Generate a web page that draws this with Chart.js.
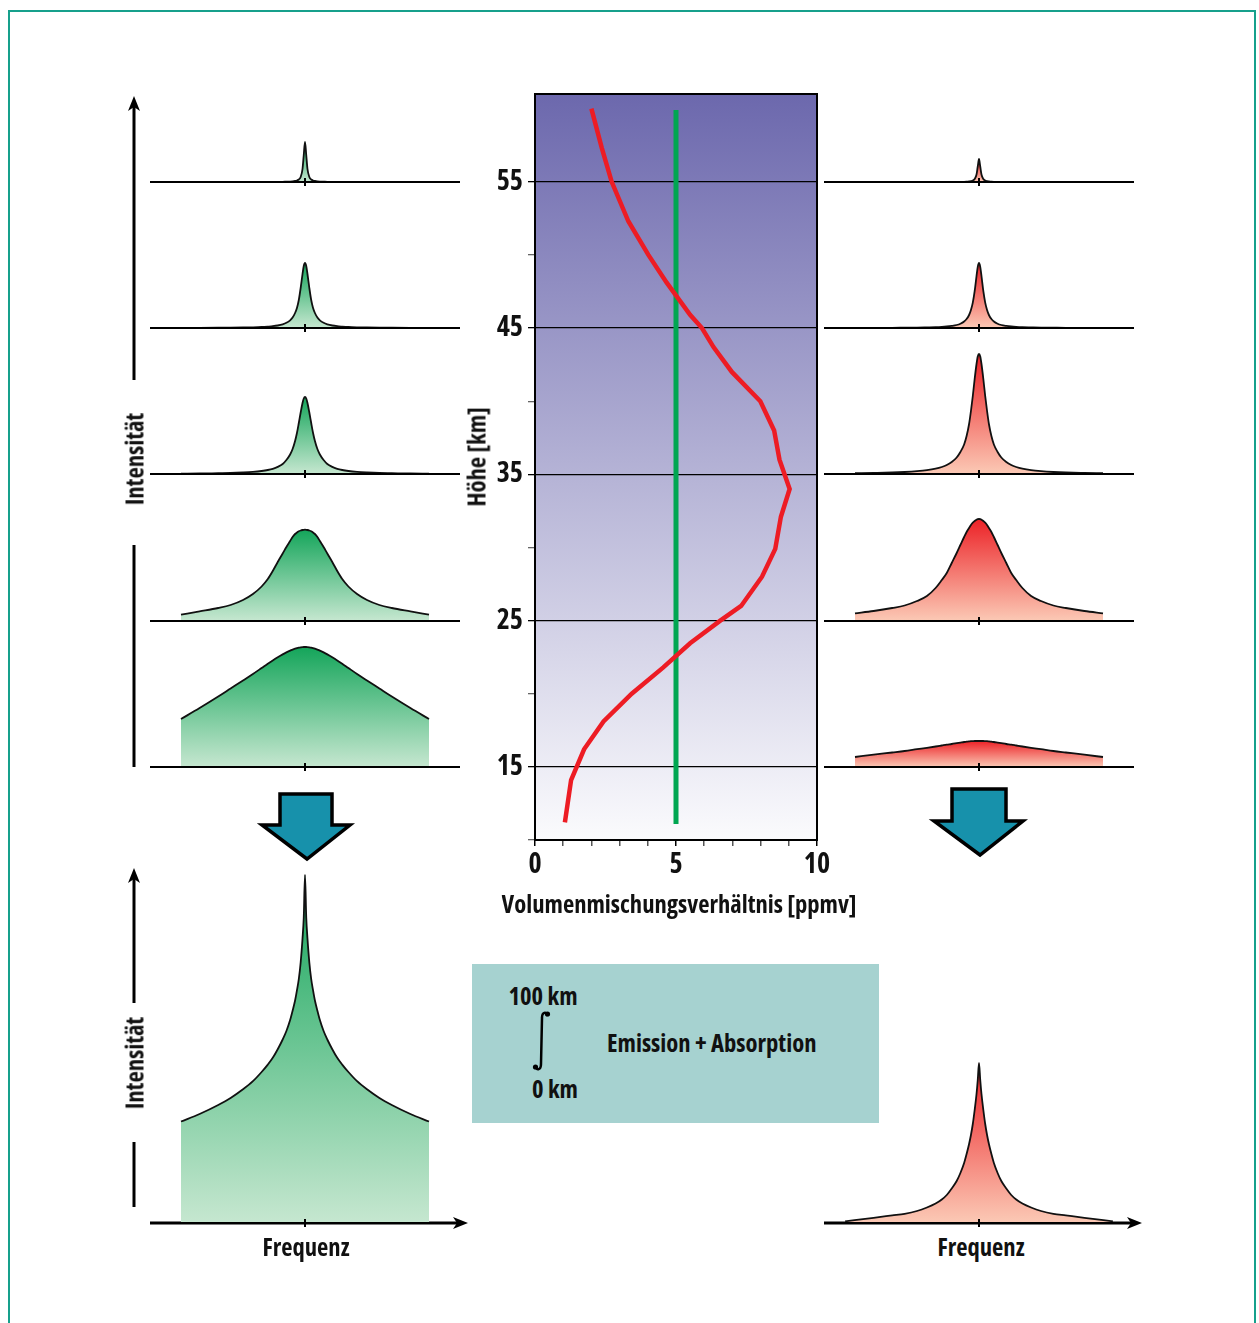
<!DOCTYPE html>
<html lang="de">
<head>
<meta charset="utf-8">
<title>Spektrallinien und Wasserdampfprofil</title>
<script src="https://cdn.jsdelivr.net/npm/chart.js@4.4.1/dist/chart.umd.min.js"></script>
<style>
  html, body { margin: 0; padding: 0; background: #fff; }
  body {
    width: 1259px; height: 1323px; position: relative; overflow: hidden;
    font-family: 'Liberation Sans Narrow', sans-serif;
    font-weight: bold; color: #111; --sx: 1;
  }
  canvas { position: absolute; }
  svg { position: absolute; left: 0; top: 0; }
  .frame { position: absolute; left: 8px; top: 10px; width: 1244px; height: 1400px; border: 2px solid #17a08c; }
  .lbl { position: absolute; font-size: 25px; line-height: 1; white-space: nowrap; transform: translate(-50%, -50%) scaleX(var(--sx)); }
  .rot { transform: translate(-50%, -50%) rotate(-90deg) scaleX(var(--sx)); }
  .left { transform: translate(0, -50%) scaleX(var(--sx)); transform-origin: 0 50%; }
</style>
</head>
<body>
<div class="frame"></div>

<svg width="1259" height="1323">
  <g stroke="#000" stroke-width="3" fill="none">
    <line x1="134" y1="380" x2="134" y2="104"/>
    <line x1="134" y1="545" x2="134" y2="767"/>
    <line x1="134" y1="1003" x2="134" y2="876"/>
    <line x1="134" y1="1142" x2="134" y2="1207"/>
    <line x1="150" y1="1223" x2="462" y2="1223"/>
    <line x1="824" y1="1223" x2="1135" y2="1223"/>
  </g>
  <g fill="#000">
    <polygon points="134,96 140,111 134,107 128,111"/>
    <polygon points="134,868 140,883 134,879 128,883"/>
    <polygon points="468,1223 453,1217 457,1223 453,1229"/>
    <polygon points="1142,1223 1127,1217 1131,1223 1127,1229"/>
  </g>
  <g fill="#1791ab" stroke="#000" stroke-width="3.5">
    <polygon points="280,794 332,794 332,825 350,825 307,859 262,825 280,825"/>
    <polygon points="952,789 1006,789 1006,821 1023,821 980,855 934,821 952,821"/>
  </g>
  <rect x="472" y="964" width="407" height="159" fill="#a6d2d0"/>
  <path d="M548,1016 C546,1011 542,1012 542,1018 L541,1064 C541,1070 537,1071 535,1066" stroke="#000" stroke-width="2.5" fill="none"/>
  <circle cx="547.5" cy="1014" r="2.6" fill="#000"/>
  <circle cx="535.5" cy="1067" r="2.6" fill="#000"/>
</svg>

<canvas id="profil" width="420" height="860" style="left:440px;top:80px"></canvas>

<canvas id="g55" width="310" height="150" style="left:150px;top:36px"></canvas>
<canvas id="g45" width="310" height="150" style="left:150px;top:182px"></canvas>
<canvas id="g35" width="310" height="150" style="left:150px;top:328px"></canvas>
<canvas id="g25" width="310" height="150" style="left:150px;top:475px"></canvas>
<canvas id="g15" width="310" height="150" style="left:150px;top:621px"></canvas>

<canvas id="r55" width="310" height="150" style="left:824px;top:36px"></canvas>
<canvas id="r45" width="310" height="150" style="left:824px;top:182px"></canvas>
<canvas id="r35" width="310" height="150" style="left:824px;top:328px"></canvas>
<canvas id="r25" width="310" height="150" style="left:824px;top:475px"></canvas>
<canvas id="r15" width="310" height="150" style="left:824px;top:621px"></canvas>

<canvas id="gSum" width="310" height="367" style="left:150px;top:860px"></canvas>
<canvas id="rSum" width="310" height="187" style="left:824px;top:1040px"></canvas>

<div class="lbl rot" style="left:134px;top:459px">Intensität</div>
<div class="lbl rot" style="left:134px;top:1063px">Intensität</div>
<div class="lbl rot" style="left:476px;top:457px">Höhe [km]</div>
<div class="lbl" style="left:679px;top:903px">Volumenmischungsverhältnis [ppmv]</div>
<div class="lbl" style="left:306px;top:1246px">Frequenz</div>
<div class="lbl" style="left:981px;top:1246px">Frequenz</div>
<div class="lbl" style="left:543px;top:995px">100 km</div>
<div class="lbl" style="left:555px;top:1088px">0 km</div>
<div class="lbl left" style="left:607px;top:1042px">Emission + Absorption</div>

<script>
// Höhenprofil (Mitte)
const altitudes = [60, 57.3, 55, 52.3, 50, 48.1, 45.9, 45, 43.7, 42, 40, 38, 36, 34, 32.1, 29.9, 28, 26, 25, 23.45, 21.8, 20, 18.1, 16.2, 14.1, 11.2];
const vmrProfile = [2.0, 2.37, 2.72, 3.31, 4.02, 4.67, 5.5, 5.92, 6.33, 6.98, 7.99, 8.48, 8.67, 9.03, 8.72, 8.52, 8.05, 7.31, 6.57, 5.5, 4.55, 3.43, 2.43, 1.74, 1.28, 1.06];
const constAlt = [11.1, 59.9];
const constVmr = [5, 5];
const altitudeTicks = [15, 25, 35, 45, 55];
const vmrTicks = [0, 5, 10];

// Linienformen, Frequenz relativ zur Linienmitte
const freq = [-1, -0.85, -0.7, -0.6, -0.5, -0.42, -0.35, -0.3, -0.26, -0.22, -0.18, -0.15, -0.12, -0.1, -0.08, -0.065, -0.05, -0.035, -0.02, -0.01, 0,
  0.01, 0.02, 0.035, 0.05, 0.065, 0.08, 0.1, 0.12, 0.15, 0.18, 0.22, 0.26, 0.3, 0.35, 0.42, 0.5, 0.6, 0.7, 0.85, 1];
const freqSumRed = [-1.08, -0.85, -0.7, -0.6, -0.5, -0.42, -0.35, -0.3, -0.26, -0.22, -0.18, -0.15, -0.12, -0.1, -0.08, -0.065, -0.05, -0.035, -0.02, -0.01, 0,
  0.01, 0.02, 0.035, 0.05, 0.065, 0.08, 0.1, 0.12, 0.15, 0.18, 0.22, 0.26, 0.3, 0.35, 0.42, 0.5, 0.6, 0.7, 0.85, 1.08];

const green55 = [0, 0, 0, 0, 0, 0, 0, 0, 0, 0.1, 0.2, 0.3, 0.4, 0.6, 1, 1.5, 2.5, 5, 13, 27, 40, 27, 13, 5, 2.5, 1.5, 1, 0.6, 0.4, 0.3, 0.2, 0.1, 0, 0, 0, 0, 0, 0, 0, 0, 0];
const green45 = [0.13, 0.17, 0.26, 0.35, 0.5, 0.7, 1, 1.4, 1.8, 2.5, 3.7, 5.2, 7.7, 10.5, 15, 20, 28, 40, 54, 62, 65, 62, 54, 40, 28, 20, 15, 10.5, 7.7, 5.2, 3.7, 2.5, 1.8, 1.4, 1, 0.7, 0.5, 0.35, 0.26, 0.17, 0.13];
const green35 = [0.4, 0.5, 0.8, 1, 1.5, 2.1, 3, 4, 5.2, 7.1, 10, 14, 19.5, 25, 33, 41, 51, 61.5, 71, 75.5, 77, 75.5, 71, 61.5, 51, 41, 33, 25, 19.5, 14, 10, 7.1, 5.2, 4, 3, 2.1, 1.5, 1, 0.8, 0.5, 0.4];
const green25 = [6.3, 9.6, 13, 16, 21, 27, 34.5, 42, 50, 59, 67.5, 74, 80, 84, 87, 88.5, 89.7, 90.5, 91, 91.2, 91.3, 91.2, 91, 90.5, 89.7, 88.5, 87, 84, 80, 74, 67.5, 59, 50, 42, 34.5, 27, 21, 16, 13, 9.6, 6.3];
const green15 = [48, 59, 70.5, 78.5, 86.5, 93, 99, 103.3, 106.6, 109.7, 112.6, 114.6, 116.4, 117.4, 118.3, 118.9, 119.4, 119.7, 119.9, 120, 120, 120, 119.9, 119.7, 119.4, 118.9, 118.3, 117.4, 116.4, 114.6, 112.6, 109.7, 106.6, 103.3, 99, 93, 86.5, 78.5, 70.5, 59, 48];

const red55 = [0, 0, 0, 0, 0, 0, 0, 0, 0, 0, 0.1, 0.15, 0.2, 0.35, 0.6, 0.9, 1.5, 3, 7.5, 15.5, 23, 15.5, 7.5, 3, 1.5, 0.9, 0.6, 0.35, 0.2, 0.15, 0.1, 0, 0, 0, 0, 0, 0, 0, 0, 0, 0];
const red45 = [0.1, 0.14, 0.2, 0.3, 0.4, 0.6, 0.8, 1.1, 1.5, 2.1, 3, 4.3, 6.5, 9, 13, 18, 25.4, 36.8, 52, 61.2, 65, 61.2, 52, 36.8, 25.4, 18, 13, 9, 6.5, 4.3, 3, 2.1, 1.5, 1.1, 0.8, 0.6, 0.4, 0.3, 0.2, 0.14, 0.1];
const red35 = [0.8, 1.1, 1.5, 2, 2.8, 3.8, 5.3, 7, 9, 12, 16.5, 22, 29.5, 38, 50, 63, 78, 95, 110, 117.5, 120, 117.5, 110, 95, 78, 63, 50, 38, 29.5, 22, 16.5, 12, 9, 7, 5.3, 3.8, 2.8, 2, 1.5, 1.1, 0.8];
const red25 = [7.7, 10, 13, 15.5, 20, 25, 33, 41, 48, 58, 68, 76, 84, 89, 93, 96, 98.3, 100, 101.3, 101.8, 102, 101.8, 101.3, 100, 98.3, 96, 93, 89, 84, 76, 68, 58, 48, 41, 33, 25, 20, 15.5, 13, 10, 7.7];
const red15 = [10, 12.3, 14.5, 16, 17.8, 19.2, 20.5, 21.5, 22.3, 23, 23.8, 24.4, 25, 25.3, 25.6, 25.8, 25.9, 26, 26, 26, 26, 26, 26, 26, 25.9, 25.8, 25.6, 25.3, 25, 24.4, 23.8, 23, 22.3, 21.5, 20.5, 19.2, 17.8, 16, 14.5, 12.3, 10];

const greenSum = [101.5, 109, 118, 125, 133.7, 141.8, 151, 158.4, 165.2, 173.8, 183.5, 192, 203, 212.3, 222.5, 232.6, 244, 260.5, 284.5, 305.5, 348,
  305.5, 284.5, 260.5, 244, 232.6, 222.5, 212.3, 203, 192, 183.5, 173.8, 165.2, 158.4, 151, 141.8, 133.7, 125, 118, 109, 101.5];
const redSum = [1.7, 5.2, 7.6, 9.2, 12, 15.5, 19.5, 23.5, 28, 34.5, 42, 50, 60, 69, 79, 88, 99, 113, 129, 143, 160,
  143, 129, 113, 99, 88, 79, 69, 60, 50, 42, 34.5, 28, 23.5, 19.5, 15.5, 12, 9.2, 7.6, 5.2, 1.7];

// schmale Schrift suchen (die Vorlage ist in einer Condensed-Schrift gesetzt)
const narrow = (() => {
  const ctx = document.createElement('canvas').getContext('2d');
  const candidates = [
    ["'Liberation Sans Narrow'", 'normal'],
    ["'Noto Sans'", 'condensed'],
    ["'Noto Sans Condensed'", 'normal'],
    ["'Noto Sans'", 'extra-condensed'],
    ["'Open Sans'", 'condensed'],
    ["'DejaVu Sans'", 'condensed'],
    ["'DejaVu Sans Condensed'", 'normal'],
    ["'Roboto'", 'condensed'],
    ["'Liberation Sans'", 'normal']
  ];
  let best = null;
  candidates.forEach(([family, stretch]) => {
    ctx.font = '10px serif';
    ctx.font = (stretch === 'normal' ? '' : stretch + ' ') + 'bold 25px ' + family;
    const w = ctx.measureText('Frequenz').width;
    const score = Math.abs(w - 87);
    if (!best || score < best.score) best = { family, stretch, w, score };
  });
  return best;
})();

const FONT = narrow.family + ', sans-serif';
const WEIGHT = narrow.stretch === 'normal' ? 'bold' : 'bold ' + narrow.stretch;
const SX = Math.max(0.6, Math.min(1.15, 87 / narrow.w));
document.body.style.fontFamily = FONT;
document.body.style.fontStretch = narrow.stretch;
document.body.style.setProperty('--sx', SX.toFixed(3));
const TICK_SIZE = 28;

// Hintergrund + Rahmen fuer das Profil
const plotBackground = {
  id: 'plotBackground',
  beforeDraw(chart) {
    const { ctx, chartArea: a } = chart;
    const g = ctx.createLinearGradient(0, a.top, 0, a.bottom);
    g.addColorStop(0, '#6c68ad');
    g.addColorStop(1, '#fbfbfd');
    ctx.save();
    ctx.fillStyle = g;
    ctx.fillRect(a.left, a.top, a.right - a.left, a.bottom - a.top);
    ctx.restore();
  },
  afterDraw(chart) {
    const { ctx, chartArea: a } = chart;
    ctx.save();
    ctx.strokeStyle = '#000';
    ctx.lineWidth = 2;
    ctx.strokeRect(a.left, a.top, a.right - a.left, a.bottom - a.top);
    ctx.restore();
  }
};

// Grundlinie mit Markierung der Linienmitte
const baselinePlugin = {
  id: 'baseline',
  afterDatasetsDraw(chart) {
    const { ctx, chartArea, scales } = chart;
    const y0 = scales.y.getPixelForValue(0);
    const xc = scales.x.getPixelForValue(0);
    ctx.save();
    ctx.strokeStyle = '#000';
    ctx.lineWidth = 2;
    ctx.beginPath();
    ctx.moveTo(chartArea.left, y0);
    ctx.lineTo(chartArea.right, y0);
    ctx.moveTo(xc, y0 - 4);
    ctx.lineTo(xc, y0 + 4);
    ctx.stroke();
    ctx.restore();
  }
};

new Chart(document.getElementById('profil'), {
  type: 'line',
  data: {
    datasets: [{
      data: vmrProfile.map((v, i) => ({ x: v, y: altitudes[i] })),
      borderColor: '#ed1c24',
      borderWidth: 4.5,
      borderCapStyle: 'butt',
      pointRadius: 0,
      tension: 0,
      fill: false
    }, {
      data: constVmr.map((v, i) => ({ x: v, y: constAlt[i] })),
      borderColor: '#00a651',
      borderWidth: 5,
      pointRadius: 0,
      fill: false
    }]
  },
  options: {
    responsive: false,
    animation: false,
    layout: { padding: { top: 14, right: 43, left: 0, bottom: 0 } },
    plugins: { legend: { display: false }, tooltip: { enabled: false } },
    scales: {
      x: {
        type: 'linear', min: 0, max: 10,
        afterFit: (s) => { s.height = 100; s.paddingLeft = 0; s.paddingRight = 0; },
        ticks: {
          stepSize: 1, autoSkip: false, maxRotation: 0, padding: 2, color: '#111',
          font: { family: FONT, size: TICK_SIZE, weight: WEIGHT },
          callback: (v) => vmrTicks.includes(v) ? String(v) : ''
        },
        grid: {
          drawOnChartArea: false, tickLength: 6, lineWidth: 1.5,
          tickColor: (c) => vmrTicks.includes(c.tick.value) ? '#000' : '#555'
        },
        border: { color: '#000', width: 2 }
      },
      y: {
        type: 'linear', min: 10, max: 61,
        afterFit: (s) => { s.width = 95; s.paddingTop = 0; s.paddingBottom = 0; },
        ticks: {
          stepSize: 5, autoSkip: false, padding: 5, color: '#111',
          font: { family: FONT, size: TICK_SIZE, weight: WEIGHT },
          callback: (v) => altitudeTicks.includes(v) ? String(v) : ''
        },
        grid: {
          tickLength: 7, lineWidth: 1.3,
          color: (c) => altitudeTicks.includes(c.tick.value) ? '#000' : 'transparent',
          tickColor: (c) => altitudeTicks.includes(c.tick.value) ? '#000' : (c.tick.value % 5 === 0 ? '#666' : 'transparent')
        },
        border: { color: '#000', width: 2 }
      }
    }
  },
  plugins: [plotBackground]
});

function spectrum(id, xs, values, yMax, topColor, bottomColor) {
  const peak = Math.max(...values);
  return new Chart(document.getElementById(id), {
    type: 'line',
    data: {
      datasets: [{
        data: xs.map((f, i) => ({ x: f, y: values[i] })),
        borderColor: '#111',
        borderWidth: 1.8,
        pointRadius: 0,
        cubicInterpolationMode: 'monotone',
        fill: 'origin',
        backgroundColor: (ctx) => {
          const chart = ctx.chart;
          if (!chart.chartArea) return bottomColor;
          const y = chart.scales.y;
          const g = chart.ctx.createLinearGradient(0, y.getPixelForValue(peak), 0, y.getPixelForValue(0));
          g.addColorStop(0, topColor);
          g.addColorStop(1, bottomColor);
          return g;
        }
      }]
    },
    options: {
      responsive: false,
      animation: false,
      layout: { padding: { bottom: 4 } },
      plugins: { legend: { display: false }, tooltip: { enabled: false } },
      scales: {
        x: { type: 'linear', min: -1.25, max: 1.25, display: false },
        y: { min: 0, max: yMax, display: false }
      }
    },
    plugins: [baselinePlugin]
  });
}

const GREEN_TOP = '#14a55a', GREEN_BOTTOM = '#c6e7d0';
const RED_TOP = '#ec2227', RED_BOTTOM = '#fbc9b5';

spectrum('g55', freq, green55, 146, GREEN_TOP, GREEN_BOTTOM);
spectrum('g45', freq, green45, 146, GREEN_TOP, GREEN_BOTTOM);
spectrum('g35', freq, green35, 146, GREEN_TOP, GREEN_BOTTOM);
spectrum('g25', freq, green25, 146, GREEN_TOP, GREEN_BOTTOM);
spectrum('g15', freq, green15, 146, GREEN_TOP, GREEN_BOTTOM);

spectrum('r55', freq, red55, 146, RED_TOP, RED_BOTTOM);
spectrum('r45', freq, red45, 146, RED_TOP, RED_BOTTOM);
spectrum('r35', freq, red35, 146, RED_TOP, RED_BOTTOM);
spectrum('r25', freq, red25, 146, RED_TOP, RED_BOTTOM);
spectrum('r15', freq, red15, 146, RED_TOP, RED_BOTTOM);

spectrum('gSum', freq, greenSum, 363, GREEN_TOP, GREEN_BOTTOM);
spectrum('rSum', freqSumRed, redSum, 183, RED_TOP, RED_BOTTOM);
</script>
</body>
</html>
